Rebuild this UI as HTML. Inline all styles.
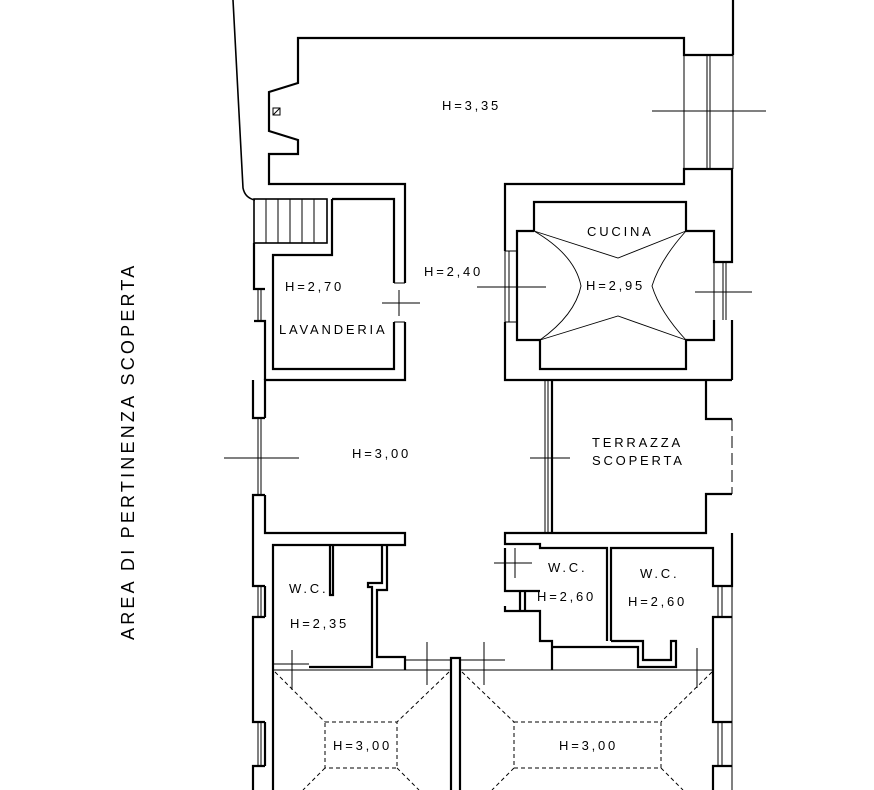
<!DOCTYPE html>
<html><head><meta charset="utf-8"><style>
html,body{margin:0;padding:0;background:#fff}
svg{display:block}
text{font-family:"Liberation Sans",sans-serif;font-size:13px;letter-spacing:2.8px;fill:#000}
</style></head><body>
<svg width="874" height="790" viewBox="0 0 874 790" xmlns="http://www.w3.org/2000/svg">
<g fill="none" stroke="#000" stroke-width="2.2" stroke-linejoin="miter">
<path d="M233,0 L243,188 Q245,198 255,200" stroke-width="1.6"/>
<line x1="733" y1="0" x2="733" y2="55"/>
<polyline points="733,55 684,55 684,38 298,38 298,83 269,92 269,131 298,140 298,154 269,154 269,184 405,184 405,283"/>
<polyline points="733,169 684,169 684,184 505,184 505,251"/>
<g stroke-width="1"><line x1="684" y1="55" x2="684" y2="169"/><line x1="733" y1="55" x2="733" y2="169"/><line x1="707" y1="55" x2="707" y2="169"/><line x1="710" y1="55" x2="710" y2="169"/></g>
<polyline points="332,199 394,199 394,283"/>
<polyline points="394,322 394,369 273,369 273,255 332,255 332,199"/>
<polyline points="405,322 405,380 265,380 265,418"/>
<rect x="254" y="199" width="73" height="44" stroke-width="1.6"/>
<g stroke-width="1"><line x1="266" y1="199" x2="266" y2="243"/><line x1="278" y1="199" x2="278" y2="243"/><line x1="290" y1="199" x2="290" y2="243"/><line x1="302" y1="199" x2="302" y2="243"/><line x1="314" y1="199" x2="314" y2="243"/></g>
<polyline points="254,243 254,289 265,289"/>
<polyline points="254,321 265,321 265,380"/>
<g stroke-width="1"><line x1="258" y1="289" x2="258" y2="321"/><line x1="261" y1="289" x2="261" y2="321"/><line x1="394" y1="283" x2="405" y2="283"/><line x1="394" y1="322" x2="405" y2="322"/></g>
<polyline points="253,380 253,418 265,418"/>
<polyline points="265,495 253,495 253,586 265,586"/>
<polyline points="265,617 253,617 253,722 265,722"/>
<polyline points="265,766 253,766 253,790"/>
<g stroke-width="1"><line x1="258" y1="418" x2="258" y2="495"/><line x1="261" y1="418" x2="261" y2="495"/><line x1="258" y1="586" x2="258" y2="617"/><line x1="261" y1="586" x2="261" y2="617"/><line x1="258" y1="722" x2="258" y2="766"/><line x1="261" y1="722" x2="261" y2="766"/></g>
<polyline points="265,495 265,533 405,533 405,545 273,545 273,790"/>
<line x1="265" y1="586" x2="265" y2="617"/>
<line x1="265" y1="722" x2="265" y2="766"/>
<polyline points="505,322 505,380 732,380"/>
<polyline points="534,231 534,202 686,202 686,231 714,231 714,262 732,262 732,169"/>
<polyline points="714,320 714,340 686,340 686,369 540,369 540,340 517,340 517,231 534,231"/>
<polyline points="732,320 732,380"/>
<g stroke-width="1"><line x1="505" y1="251" x2="517" y2="251"/><line x1="505" y1="322" x2="517" y2="322"/><line x1="505" y1="251" x2="505" y2="322"/><line x1="509" y1="251" x2="509" y2="322"/><line x1="714" y1="262" x2="714" y2="320"/><line x1="723" y1="262" x2="723" y2="320"/><line x1="726" y1="262" x2="726" y2="320"/></g>
<g stroke-width="0.9">
<polyline points="534,231 618,258 686,231"/>
<polyline points="540,340 618,316 686,340"/>
<path d="M534,231 Q575,255 581,286 Q575,315 540,340"/>
<path d="M686,231 Q660,260 652,286 Q660,312 686,340"/>
</g>
<polyline points="552,380 552,533"/>
<polyline points="706,380 706,419 732,419"/>
<polyline points="732,494 706,494 706,533 505,533 505,544 540,544 540,548 607,548 607,641"/>
<g stroke-width="1"><line x1="545" y1="380" x2="545" y2="533"/><line x1="548" y1="380" x2="548" y2="533"/><line x1="732" y1="419" x2="732" y2="494" stroke-dasharray="12,5"/></g>
<polyline points="309,667 372,667 372,587 368,587 368,583 382,583 382,545"/>
<polyline points="387,545 387,590 377,590 377,657 405,657 405,670"/>
<polyline points="330,545 330,595 333,595 333,545"/>
<polyline points="505,548 505,591 540,591"/>
<polyline points="505,606 505,611 540,611 540,641 552,641 552,670"/>
<line x1="525" y1="591" x2="525" y2="611"/>
<line x1="520" y1="591" x2="520" y2="611"/>
<polyline points="611,641 611,548 713,548 713,586 732,586 732,548 732,533"/>
<polyline points="552,647 638,647 638,667 676,667 676,641 671,641 671,660 643,660 643,641 611,641"/>
<polyline points="732,617 713,617 713,722 732,722"/>
<polyline points="732,766 713,766 713,790"/>
<g stroke-width="1"><line x1="718" y1="586" x2="718" y2="617"/><line x1="722" y1="586" x2="722" y2="617"/><line x1="718" y1="722" x2="718" y2="766"/><line x1="722" y1="722" x2="722" y2="766"/><line x1="732" y1="586" x2="732" y2="790"/></g>
<polyline points="451,790 451,658 460,658 460,790"/>
<g stroke-width="1">
<line x1="273" y1="670" x2="451" y2="670"/><line x1="273" y1="664" x2="309" y2="664"/>
<line x1="460" y1="670" x2="713" y2="670"/><line x1="405" y1="660" x2="451" y2="660"/><line x1="460" y1="660" x2="505" y2="660"/>
</g>
<g stroke-width="1" stroke-dasharray="4,3">
<rect x="325" y="722" width="72" height="46"/>
<line x1="275" y1="672" x2="325" y2="722"/><line x1="449" y1="672" x2="397" y2="722"/>
<line x1="325" y1="768" x2="303" y2="790"/><line x1="397" y1="768" x2="419" y2="790"/>
<rect x="514" y="722" width="147" height="46"/>
<line x1="462" y1="672" x2="514" y2="722"/><line x1="712" y1="672" x2="661" y2="722"/>
<line x1="514" y1="768" x2="492" y2="790"/><line x1="661" y1="768" x2="683" y2="790"/>
</g>
<g stroke-width="1">
<line x1="652" y1="111" x2="766" y2="111"/>
<line x1="382" y1="303" x2="420" y2="303"/><line x1="399" y1="290" x2="399" y2="316"/>
<line x1="477" y1="287" x2="546" y2="287"/>
<line x1="695" y1="292" x2="752" y2="292"/>
<line x1="224" y1="458" x2="299" y2="458"/>
<line x1="530" y1="458" x2="570" y2="458"/>
<line x1="494" y1="563" x2="532" y2="563"/><line x1="515" y1="548" x2="515" y2="578"/>
<line x1="292" y1="650" x2="292" y2="690"/>
<line x1="427" y1="642" x2="427" y2="685"/>
<line x1="484" y1="642" x2="484" y2="685"/>
<line x1="697" y1="648" x2="697" y2="688"/>
</g>
<rect x="273" y="108" width="7" height="7" stroke-width="1"/><line x1="273" y1="115" x2="280" y2="108" stroke-width="1"/>
</g>
<text x="442" y="110">H=3,35</text>
<text x="587" y="236">CUCINA</text>
<text x="424" y="276">H=2,40</text>
<text x="285" y="291">H=2,70</text>
<text x="586" y="290">H=2,95</text>
<text x="279" y="334">LAVANDERIA</text>
<text x="352" y="458">H=3,00</text>
<text x="592" y="447">TERRAZZA</text>
<text x="592" y="465">SCOPERTA</text>
<text x="289" y="593">W.C.</text>
<text x="290" y="628">H=2,35</text>
<text x="548" y="572">W.C.</text>
<text x="537" y="601">H=2,60</text>
<text x="640" y="578">W.C.</text>
<text x="628" y="606">H=2,60</text>
<text x="333" y="750">H=3,00</text>
<text x="559" y="750">H=3,00</text>
<text transform="translate(134,640) rotate(-90)" style="font-size:18px;letter-spacing:3.2px">AREA DI PERTINENZA SCOPERTA</text>
</svg>
</body></html>
